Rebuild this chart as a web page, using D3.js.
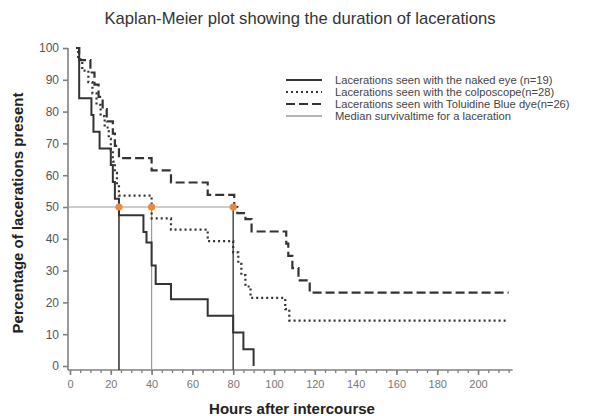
<!DOCTYPE html>
<html>
<head>
<meta charset="utf-8">
<script src="https://cdn.jsdelivr.net/npm/d3@7"></script>
<style>
  body { margin: 0; background: #fff; }
  svg { font-family: "Liberation Sans", Arial, sans-serif; }
</style>
</head>
<body>
<svg id="drawing_region"></svg>
<script>

// Kaplan-Meier steps: time (hours) and percentage after each step
const hours_naked = [3, 4.5, 10.5, 11.5, 14.5, 20, 21, 22, 24, 36, 37.5, 40, 42, 49.5, 67.5, 80, 85, 90];
const pct_naked   = [100, 84.2, 78.9, 73.7, 68.4, 63.2, 57.9, 52.6, 47.4, 42.1, 38.8, 31.6, 25.8, 21.0, 15.8, 10.5, 5.3, 0];

const hours_colpo = [3, 4, 6, 9, 11, 13, 15, 17, 19, 20, 21, 22, 23, 24, 40, 49.5, 67.5, 80, 82.5, 84, 86, 88.5, 105.5, 107.5, 215];
const pct_colpo   = [100, 96.4, 92.9, 89.3, 85.7, 82.1, 78.6, 75.0, 71.4, 67.9, 64.3, 60.7, 57.1, 53.6, 46.4, 42.9, 39.3, 35.7, 32.1, 28.6, 25.0, 21.4, 17.9, 14.3, 14.3];

const hours_blue = [3, 4.5, 10, 12, 14, 16, 18, 21, 22, 24, 40, 49.5, 67.5, 80.5, 82, 86, 89, 106, 107, 109, 112, 117.5, 215];
const pct_blue   = [100, 96.2, 92.3, 88.5, 84.6, 80.8, 76.9, 73.1, 69.2, 65.4, 61.5, 57.7, 53.8, 50.0, 48.1, 46.2, 42.3, 38.5, 34.6, 30.8, 26.9, 23.1, 23.1];

const median_hours = [24, 40, 80];
const median_pct = 50;

const legend_labels = [
    "Lacerations seen with the naked eye (n=19)",
    "Lacerations seen with the colposcope(n=28)",
    "Lacerations seen with Toluidine Blue dye(n=26)",
    "Median survivaltime for a laceration"
];

const x_ticks = [0, 20, 40, 60, 80, 100, 120, 140, 160, 180, 200];
const y_ticks = [0, 10, 20, 30, 40, 50, 60, 70, 80, 90, 100];


const width = 597, height = 416;

const svg = d3.select('#drawing_region')
    .attr('width', width)
    .attr('height', height);

const xscale = d3.scaleLinear().domain([0, 217]).range([70, 512.7]);
const yscale = d3.scaleLinear().domain([0, 100]).range([366, 48]);

const axisColor = '#808080';
const lineColor = '#333';
const font = '"Liberation Sans", Arial, sans-serif';

// title
svg.append('text')
    .attr('x', 300).attr('y', 24)
    .attr('text-anchor', 'middle')
    .attr('font-size', 16.6)
    .attr('fill', '#333')
    .text('Kaplan-Meier plot showing the duration of lacerations');

// y axis
const yaxis = d3.axisLeft(yscale)
    .tickValues(y_ticks)
    .tickSize(5)
    .tickSizeOuter(0);

const ygroup = svg.append('g')
    .attr('transform', `translate(${xscale(0) - 2},0)`)
    .call(yaxis);
ygroup.select('.domain').attr('stroke', axisColor).attr('stroke-width', 1.6)
    .attr('d', `M0,${yscale(100)}V${yscale(0) + 4}`);
ygroup.selectAll('.tick line').attr('stroke', axisColor).attr('stroke-width', 1.6);
ygroup.selectAll('.tick text')
    .attr('font-size', 12).attr('fill', '#555')
    .attr('font-family', font)
    .attr('x', -9);

// x axis
const xaxis_minor = d3.axisBottom(xscale)
    .tickValues(d3.range(0, 216, 5))
    .tickSize(3)
    .tickFormat('')
    .tickSizeOuter(0);

const xaxis = d3.axisBottom(xscale)
    .tickValues(x_ticks)
    .tickSize(5)
    .tickSizeOuter(0);

const xy = yscale(0) + 4;
const xminor = svg.append('g')
    .attr('transform', `translate(0,${xy})`)
    .call(xaxis_minor);
xminor.select('.domain').attr('stroke', axisColor).attr('stroke-width', 1.6)
    .attr('d', `M${xscale(0) - 2},0H${xscale(217)}`);
xminor.selectAll('.tick line').attr('stroke', axisColor).attr('stroke-width', 1.3);

const xgroup = svg.append('g')
    .attr('transform', `translate(0,${xy})`)
    .call(xaxis);
xgroup.select('.domain').remove();
xgroup.selectAll('.tick line').attr('stroke', axisColor).attr('stroke-width', 1.6);
xgroup.selectAll('.tick text')
    .attr('font-size', 11).attr('fill', '#777')
    .attr('font-family', font)
    .attr('y', 10);

// axis titles
svg.append('text')
    .attr('transform', `translate(23,${yscale(50) + 6}) rotate(-90)`)
    .attr('text-anchor', 'middle')
    .attr('font-size', 15)
    .attr('font-weight', 'bold')
    .attr('fill', '#222')
    .text('Percentage of lacerations present');

svg.append('text')
    .attr('x', 292).attr('y', 414)
    .attr('text-anchor', 'middle')
    .attr('font-size', 15)
    .attr('font-weight', 'bold')
    .attr('fill', '#222')
    .text('Hours after intercourse');

// median lines
const medianGray = '#9a9a9a';
const medianStroke = ['#3a3a3a', '#9a9a9a', '#555'];

svg.append('line')
    .attr('x1', xscale(0) - 2).attr('x2', xscale(d3.max(median_hours)))
    .attr('y1', yscale(median_pct)).attr('y2', yscale(median_pct))
    .attr('stroke', medianGray).attr('stroke-width', 1.2);

svg.selectAll('line.median').data(median_hours).enter()
    .append('line')
    .attr('class', 'median')
    .attr('x1', d => xscale(d)).attr('x2', d => xscale(d))
    .attr('y1', yscale(median_pct)).attr('y2', xy)
    .attr('stroke', (d, i) => medianStroke[i])
    .attr('stroke-width', (d, i) => i === 1 ? 1.2 : 1.6);

// survival curves
const line = d3.line()
    .x(d => xscale(d[0]))
    .y(d => yscale(d[1]))
    .curve(d3.curveStepAfter);

const series = [
    { hours: hours_naked, pct: pct_naked, dash: null, width: 2 },
    { hours: hours_colpo, pct: pct_colpo, dash: '2,3', width: 2.2 },
    { hours: hours_blue, pct: pct_blue, dash: '9,4', width: 2.2 }
];

series.forEach(s => {
    svg.append('path')
        .datum(s.hours.map((h, i) => [h, s.pct[i]]))
        .attr('d', line)
        .attr('fill', 'none')
        .attr('stroke', lineColor)
        .attr('stroke-width', s.width)
        .attr('stroke-dasharray', s.dash);
});

// median points
svg.selectAll('circle.median').data(median_hours).enter()
    .append('circle')
    .attr('cx', d => xscale(d))
    .attr('cy', yscale(median_pct))
    .attr('r', 3.6)
    .attr('fill', '#f0883a');

// legend
const legend = svg.append('g').attr('transform', 'translate(286,80)');
const legendStyle = [
    { dash: null, color: lineColor, width: 2 },
    { dash: '2,3', color: lineColor, width: 2.2 },
    { dash: '9,4', color: lineColor, width: 2.2 },
    { dash: null, color: medianGray, width: 1.3 }
];

legend_labels.forEach((label, i) => {
    const row = legend.append('g').attr('transform', `translate(0,${i * 12})`);
    row.append('line')
        .attr('x1', 0).attr('x2', 36)
        .attr('y1', 0).attr('y2', 0)
        .attr('stroke', legendStyle[i].color)
        .attr('stroke-width', legendStyle[i].width)
        .attr('stroke-dasharray', legendStyle[i].dash);
    row.append('text')
        .attr('x', 49).attr('y', 4)
        .attr('font-size', 11.2)
        .attr('fill', '#444')
        .text(label);
});

</script>
</body>
</html>
